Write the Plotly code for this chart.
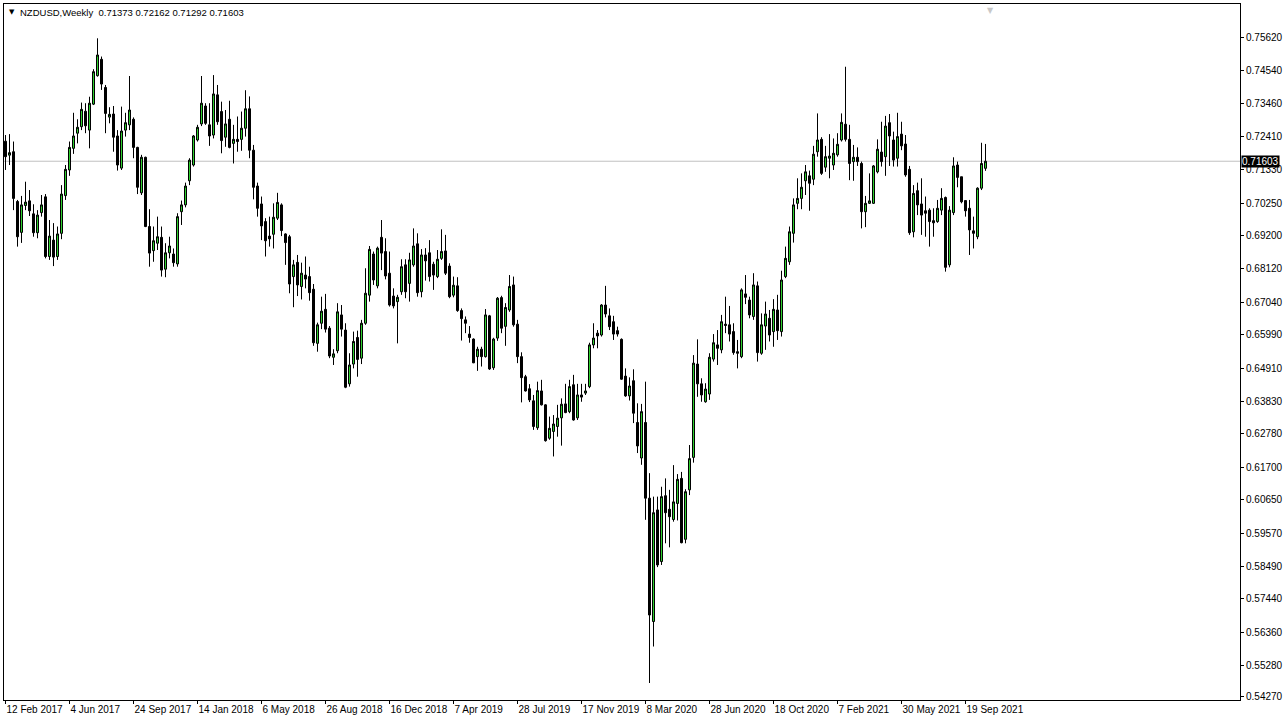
import pandas as pd
import plotly.graph_objects as go

symbol = "NZDUSD,Weekly"
start_week = "2017-02-12"

opens = [0.7225,0.7180,0.7191,0.7030,0.6930,0.7017,0.7032,0.6990,0.6929,0.6994,
0.7045,0.6852,0.6905,0.6852,0.6927,0.7049,0.7132,0.7202,0.7251,0.7272,
0.7322,0.7261,0.7345,0.7437,0.7490,0.7399,0.7303,0.7313,0.7242,0.7138,
0.7261,0.7278,0.7296,0.7205,0.7058,0.7173,0.6949,0.6871,0.6895,0.6914,
0.6811,0.6864,0.6860,0.6828,0.6997,0.7019,0.7097,0.7148,0.7229,0.7281,
0.7339,0.7278,0.7245,0.7375,0.7321,0.7238,0.7296,0.7218,0.7231,0.7231,
0.7267,0.7330,0.7196,0.7080,0.7022,0.6965,0.6918,0.6924,0.6976,0.7019,
0.6925,0.6916,0.6787,0.6833,0.6755,0.6792,0.6787,0.6746,0.6571,0.6636,
0.6681,0.6620,0.6526,0.6547,0.6663,0.6614,0.6440,0.6504,0.6590,0.6523,
0.6636,0.6727,0.6860,0.6757,0.6914,0.6868,0.6798,0.6724,0.6706,0.6738,
0.6825,0.6765,0.6825,0.6893,0.6738,0.6857,0.6864,0.6827,0.6787,0.6846,
0.6870,0.6821,0.6727,0.6757,0.6677,0.6647,0.6601,0.6585,0.6528,0.6552,
0.6528,0.6660,0.6492,0.6588,0.6719,0.6626,0.6679,0.6760,0.6633,0.6528,
0.6463,0.6424,0.6385,0.6298,0.6417,0.6372,0.6264,0.6286,0.6302,0.6330,
0.6375,0.6350,0.6437,0.6330,0.6404,0.6410,0.6431,0.6566,0.6604,0.6598,
0.6695,0.6660,0.6641,0.6612,0.6584,0.6465,0.6401,0.6450,0.6315,0.6200,
0.6315,0.6070,0.5671,0.6032,0.5865,0.6078,0.6034,0.6001,0.6053,0.6134,
0.5937,0.6097,0.6202,0.6504,0.6440,0.6382,0.6407,0.6520,0.6566,0.6550,
0.6633,0.6631,0.6609,0.6544,0.6528,0.6731,0.6711,0.6658,0.6757,0.6539,
0.6627,0.6652,0.6609,0.6679,0.6609,0.6787,0.6835,0.6927,0.7024,0.7040,
0.7097,0.7113,0.7102,0.7191,0.7231,0.7141,0.7170,0.7148,0.7181,0.7229,
0.7280,0.7231,0.7159,0.7173,0.7153,0.6997,0.7024,0.7024,0.7126,0.7190,
0.7175,0.7285,0.7229,0.7170,0.7248,0.7216,0.7134,0.6932,0.7065,0.7022,
0.7000,0.7002,0.6968,0.6965,0.7002,0.7043,0.6825,0.6994,0.7148,0.7110,
0.7033,0.7008,0.6935,0.6916,0.7073,0.71373]

highs = [0.7245,0.7248,0.7224,0.7035,0.7048,0.7094,0.7067,0.7021,0.7002,0.7051,
0.7054,0.6970,0.6960,0.6949,0.7083,0.7148,0.7224,0.7317,0.7296,0.7350,
0.7348,0.7369,0.7458,0.7558,0.7499,0.7407,0.7335,0.7339,0.7261,0.7337,
0.7317,0.7436,0.7302,0.7207,0.7181,0.7175,0.7005,0.6949,0.6981,0.6949,
0.6895,0.6916,0.6878,0.6992,0.7033,0.7091,0.7170,0.7245,0.7278,0.7436,
0.7348,0.7348,0.7439,0.7407,0.7353,0.7326,0.7356,0.7278,0.7305,0.7321,
0.7390,0.7370,0.7213,0.7091,0.7046,0.6976,0.6981,0.7024,0.7058,0.7024,
0.6927,0.6922,0.6841,0.6857,0.6832,0.6852,0.6819,0.6763,0.6638,0.6722,
0.6731,0.6627,0.6552,0.6701,0.6695,0.6636,0.6539,0.6609,0.6612,0.6647,
0.6814,0.6886,0.6868,0.6884,0.6970,0.6911,0.6868,0.6749,0.6728,0.6843,
0.6843,0.6864,0.6943,0.6927,0.6876,0.6879,0.6905,0.6835,0.6873,0.6940,
0.6922,0.6830,0.6787,0.6785,0.6684,0.6658,0.6627,0.6587,0.6560,0.6560,
0.6682,0.6663,0.6589,0.6721,0.6725,0.6701,0.6792,0.6787,0.6647,0.6542,
0.6469,0.6439,0.6404,0.6447,0.6453,0.6374,0.6334,0.6339,0.6372,0.6393,
0.6440,0.6453,0.6469,0.6440,0.6440,0.6440,0.6573,0.6636,0.6614,0.6698,
0.6757,0.6684,0.6660,0.6625,0.6587,0.6490,0.6461,0.6487,0.6377,0.6375,
0.6447,0.6151,0.6075,0.6075,0.6107,0.6134,0.6097,0.6177,0.6148,0.6155,
0.6099,0.6242,0.6533,0.6584,0.6458,0.6442,0.6539,0.6601,0.6614,0.6663,
0.6722,0.6692,0.6636,0.6582,0.6749,0.6792,0.6722,0.6798,0.6771,0.6668,
0.6706,0.6679,0.6714,0.6728,0.6806,0.6884,0.6949,0.7040,0.7105,0.7121,
0.7148,0.7130,0.7210,0.7315,0.7238,0.7210,0.7248,0.7234,0.7251,0.7315,
0.7466,0.7278,0.7213,0.7205,0.7159,0.7048,0.7121,0.7148,0.7231,0.7288,
0.7307,0.7313,0.7256,0.7317,0.7288,0.7245,0.7145,0.7083,0.7091,0.7105,
0.7046,0.7008,0.7008,0.7035,0.7073,0.7046,0.7015,0.7173,0.7159,0.7110,
0.7033,0.7035,0.6981,0.7076,0.7220,0.72162]

lows = [0.7132,0.7148,0.7002,0.6884,0.6896,0.7002,0.6983,0.6916,0.6911,0.6981,
0.6846,0.6841,0.6821,0.6841,0.6908,0.7035,0.7113,0.7184,0.7218,0.7261,
0.7251,0.7202,0.7342,0.7434,0.7391,0.7251,0.7283,0.7191,0.7130,0.7132,
0.7240,0.7261,0.7170,0.7054,0.7051,0.6947,0.6819,0.6835,0.6873,0.6787,
0.6785,0.6846,0.6819,0.6819,0.6954,0.7011,0.7083,0.7143,0.7224,0.7274,
0.7278,0.7210,0.7234,0.7278,0.7186,0.7207,0.7202,0.7153,0.7191,0.7194,
0.7240,0.7170,0.7037,0.6981,0.6905,0.6852,0.6884,0.6878,0.6970,0.6918,
0.6825,0.6733,0.6688,0.6724,0.6713,0.6749,0.6709,0.6563,0.6544,0.6617,
0.6606,0.6523,0.6501,0.6539,0.6593,0.6426,0.6431,0.6490,0.6463,0.6504,
0.6631,0.6706,0.6760,0.6749,0.6808,0.6778,0.6690,0.6684,0.6571,0.6728,
0.6717,0.6706,0.6819,0.6722,0.6720,0.6774,0.6771,0.6744,0.6782,0.6841,
0.6792,0.6717,0.6720,0.6673,0.6580,0.6604,0.6573,0.6507,0.6482,0.6496,
0.6525,0.6485,0.6485,0.6579,0.6604,0.6563,0.6673,0.6625,0.6507,0.6380,
0.6415,0.6381,0.6291,0.6291,0.6370,0.6253,0.6259,0.6205,0.6269,0.6240,
0.6345,0.6345,0.6321,0.6323,0.6382,0.6404,0.6426,0.6555,0.6555,0.6593,
0.6655,0.6614,0.6582,0.6593,0.6453,0.6398,0.6386,0.6313,0.6216,0.6178,
0.6000,0.5472,0.5590,0.5847,0.5854,0.5924,0.5911,0.5994,0.5998,0.5924,
0.5924,0.6080,0.6185,0.6398,0.6382,0.6379,0.6388,0.6512,0.6501,0.6539,
0.6604,0.6577,0.6534,0.6490,0.6523,0.6698,0.6652,0.6647,0.6512,0.6534,
0.6550,0.6577,0.6560,0.6582,0.6593,0.6782,0.6825,0.6897,0.7005,0.7005,
0.7051,0.7000,0.7083,0.7175,0.7116,0.7126,0.7105,0.7132,0.7175,0.7224,
0.7224,0.7099,0.7097,0.7145,0.6943,0.6947,0.7022,0.7022,0.7121,0.7143,
0.7113,0.7145,0.7143,0.7143,0.7196,0.7110,0.6922,0.6914,0.6986,0.6922,
0.6916,0.6884,0.6916,0.6961,0.6986,0.6803,0.6817,0.6986,0.7076,0.7024,
0.6981,0.6857,0.6878,0.6908,0.7067,0.71292]

closes = [0.7175,0.7188,0.7040,0.6916,0.7019,0.7028,0.7000,0.6929,0.6986,0.7019,
0.6852,0.6918,0.6850,0.6925,0.7054,0.7134,0.7205,0.7242,0.7270,0.7328,
0.7275,0.7348,0.7450,0.7504,0.7410,0.7315,0.7312,0.7238,0.7148,0.7258,
0.7285,0.7326,0.7205,0.7076,0.7173,0.6949,0.6863,0.6903,0.6916,0.6808,
0.6864,0.6886,0.6832,0.6981,0.7019,0.7080,0.7164,0.7242,0.7270,0.7348,
0.7283,0.7242,0.7378,0.7288,0.7227,0.7281,0.7205,0.7231,0.7224,0.7267,
0.7330,0.7196,0.7076,0.7008,0.6951,0.6903,0.6909,0.6979,0.7027,0.6936,
0.6897,0.6763,0.6825,0.6760,0.6798,0.6779,0.6735,0.6573,0.6631,0.6675,
0.6617,0.6530,0.6537,0.6673,0.6617,0.6429,0.6501,0.6577,0.6519,0.6636,
0.6733,0.6875,0.6776,0.6879,0.6863,0.6789,0.6695,0.6692,0.6720,0.6819,
0.6738,0.6841,0.6886,0.6735,0.6857,0.6838,0.6787,0.6792,0.6843,0.6868,
0.6798,0.6722,0.6759,0.6677,0.6651,0.6636,0.6590,0.6508,0.6552,0.6528,
0.6663,0.6488,0.6585,0.6717,0.6620,0.6687,0.6755,0.6631,0.6528,0.6460,
0.6417,0.6388,0.6302,0.6418,0.6372,0.6256,0.6296,0.6310,0.6329,0.6374,
0.6347,0.6431,0.6323,0.6404,0.6397,0.6417,0.6566,0.6588,0.6595,0.6695,
0.6666,0.6625,0.6601,0.6601,0.6455,0.6401,0.6433,0.6345,0.6239,0.6350,
0.6070,0.5692,0.6023,0.5854,0.6075,0.6023,0.6010,0.6058,0.6131,0.5926,
0.6091,0.6198,0.6507,0.6440,0.6404,0.6423,0.6526,0.6573,0.6555,0.6641,
0.6629,0.6601,0.6541,0.6539,0.6744,0.6720,0.6663,0.6760,0.6541,0.6631,
0.6666,0.6598,0.6681,0.6612,0.6776,0.6846,0.6932,0.7019,0.7040,0.7076,
0.7126,0.7089,0.7183,0.7229,0.7121,0.7175,0.7177,0.7186,0.7215,0.7286,
0.7231,0.7153,0.7173,0.7159,0.6997,0.7024,0.7032,0.7145,0.7199,0.7159,
0.7274,0.7242,0.7164,0.7240,0.7210,0.7116,0.6929,0.7056,0.7019,0.6986,
0.6992,0.6965,0.6961,0.7008,0.7040,0.6817,0.7002,0.7145,0.7108,0.7029,
0.7000,0.6938,0.6927,0.7073,0.7153,0.71603]

y_tick_values = [0.75620,0.74540,0.73460,0.72410,0.71330,0.70250,0.69200,0.68120,
                 0.67040,0.65990,0.64910,0.63830,0.62780,0.61700,0.60650,0.59570,
                 0.58490,0.57440,0.56360,0.55280,0.54270]
x_tick_dates = ["2017-02-12","2017-06-04","2017-09-24","2018-01-14","2018-05-06",
                "2018-08-26","2018-12-16","2019-04-07","2019-07-28","2019-11-17",
                "2020-03-08","2020-06-28","2020-10-18","2021-02-07","2021-05-30",
                "2021-09-19"]
x_tick_labels = ["12 Feb 2017","4 Jun 2017","24 Sep 2017","14 Jan 2018","6 May 2018",
                 "26 Aug 2018","16 Dec 2018","7 Apr 2019","28 Jul 2019","17 Nov 2019",
                 "8 Mar 2020","28 Jun 2020","18 Oct 2020","7 Feb 2021","30 May 2021",
                 "19 Sep 2021"]

dates = pd.date_range(start_week, periods=len(closes), freq="7D")

FONT = "Liberation Sans"
BULL = "#2fd02f"

fig = go.Figure()
fig.add_trace(go.Candlestick(
    x=dates, open=opens, high=highs, low=lows, close=closes,
    increasing=dict(fillcolor=BULL, line=dict(color="black", width=1)),
    decreasing=dict(fillcolor="black", line=dict(color="black", width=1)),
    whiskerwidth=0, showlegend=False, hoverinfo="skip",
))

last = closes[-1]
fig.add_shape(type="line", xref="paper", x0=0, x1=1, yref="y", y0=last, y1=last,
              line=dict(color="#c0c0c0", width=1), layer="below")

fig.add_annotation(xref="paper", x=1.0, yref="y", y=last, xanchor="left", yanchor="middle",
                   text=f"{last:.5f}", showarrow=False, bgcolor="black",
                   font=dict(family=FONT, size=10, color="white"), borderpad=0, xshift=1)

header = f"{symbol}  {opens[-1]:.5f} {highs[-1]:.5f} {lows[-1]:.5f} {closes[-1]:.5f}"
fig.add_annotation(xref="paper", yref="paper", x=0.0025, y=0.989, xanchor="left", yanchor="middle",
                   text="▼", showarrow=False, font=dict(family="DejaVu Sans", size=7, color="black"))
fig.add_annotation(xref="paper", yref="paper", x=0.0115, y=0.988, xanchor="left", yanchor="middle",
                   text=header, showarrow=False, font=dict(family=FONT, size=9.5, color="black"))
fig.add_annotation(xref="paper", yref="paper", x=0.7985, y=1.0, xanchor="center", yanchor="top",
                   text="▼", showarrow=False, font=dict(family="DejaVu Sans", size=8, color="#c8c8c8"))

# 4 px per week: centre of first candle at pixel 5.5 (plot starts at pixel 4)
x_start = dates[0] - pd.Timedelta(hours=63)
x_end = x_start + pd.Timedelta(days=2163)

fig.update_layout(
    width=1288, height=723,
    margin=dict(l=4, r=48, t=4, b=23, autoexpand=False),
    paper_bgcolor="white", plot_bgcolor="white",
    boxgap=0.5, boxgroupgap=0,
    xaxis=dict(
        type="date", range=[x_start, x_end], rangeslider=dict(visible=False),
        tickvals=pd.to_datetime(x_tick_dates), ticktext=x_tick_labels,
        ticklabelposition="outside right", tickangle=0, automargin=False,
        ticks="outside", ticklen=3, tickcolor="black",
        showgrid=False, zeroline=False,
        showline=True, linecolor="black", linewidth=1, mirror=True,
        tickfont=dict(family=FONT, size=10, color="black"),
    ),
    yaxis=dict(
        side="right", range=[0.5417, 0.7669], automargin=False,
        tickvals=y_tick_values, ticktext=[f"{v:.5f}" for v in y_tick_values],
        ticks="outside", ticklen=3, tickcolor="black",
        showgrid=False, zeroline=False,
        showline=True, linecolor="black", linewidth=1, mirror=True,
        tickfont=dict(family=FONT, size=10, color="black"),
    ),
)

fig.write_html("out.html", config={"displayModeBar": False},
               post_script="document.body.style.margin='0px';")
